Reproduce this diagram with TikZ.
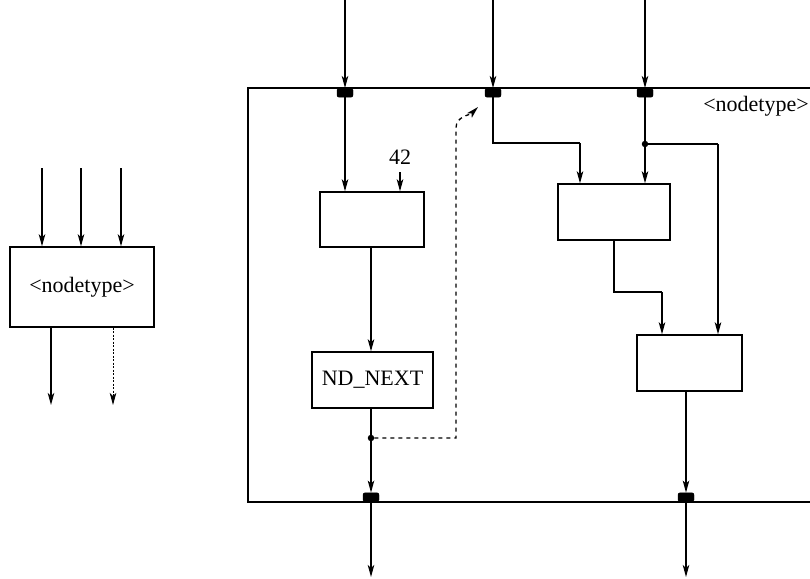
\documentclass[tikz,border=0pt]{standalone}
\usepackage{fontspec}
\setmainfont{Liberation Serif}
\usetikzlibrary{arrows.meta}
\begin{document}
\begin{tikzpicture}[x=1pt,y=-1pt,
  box/.style={draw, line width=1.4pt, inner sep=0pt, font=\fontsize{22}{26}\selectfont},
  tip/.style={-{Stealth[length=12pt,width=6.5pt,inset=3pt]}},
  arr/.style={line width=1.3pt, tip},
  ln/.style={line width=1.3pt},
  dsh/.style={line width=1.3pt, dash pattern=on 4pt off 4pt},
  port/.style={fill=black, draw=black, rounded corners=2pt, minimum width=16pt, minimum height=9pt, inner sep=0pt},
  dot/.style={circle, fill=black, inner sep=0pt, minimum size=6.5pt},
  lbl/.style={font=\fontsize{22}{26}\selectfont, inner sep=1pt}
]
\useasboundingbox (0,0) rectangle (810,578);
\fill[white] (0,0) rectangle (810,578);

% ---------- small left diagram ----------
\node[box, minimum width=144pt, minimum height=80pt] (L) at (82,287) {<nodetype>};
\coordinate (li1) at (42,168);
\coordinate (li2) at (81,168);
\coordinate (li3) at (121,168);
\draw[arr] (li1) -- (li1 |- L.north);
\draw[arr] (li2) -- (li2 |- L.north);
\draw[arr] (li3) -- (li3 |- L.north);
\coordinate (lo1) at (51,405);
\coordinate (lo2) at (113,405);
\draw[arr] (lo1 |- L.south) -- (lo1);
\draw[line width=0.9pt, dash pattern=on 2pt off 1.5pt, tip] (lo2 |- L.south) -- (lo2);

% ---------- big frame ----------
\coordinate (fTL) at (248,88);
\coordinate (fBL) at (248,502);
\draw[line width=2.2pt] (830,88) -- (fTL) -- (fBL) -- (830,502);
\node[lbl] (tl) at (756,106) {<nodetype>};

% ports
\node[port, anchor=north] (p1) at (345,88) {};
\node[port, anchor=north] (p2) at (493,88) {};
\node[port, anchor=north] (p3) at (645,88) {};
\node[port, anchor=south] (q1) at (371,502) {};
\node[port, anchor=south] (q2) at (686,502) {};

% inputs from top
\coordinate (t1) at (345,0);
\coordinate (t2) at (493,0);
\coordinate (t3) at (645,0);
\draw[arr] (t1) -- (p1.north);
\draw[arr] (t2) -- (p2.north);
\draw[arr] (t3) -- (p3.north);

% boxes
\node[box, minimum width=104pt, minimum height=55pt] (b1) at (372,219.5) {};
\node[box, minimum width=121pt, minimum height=56pt] (nd) at (372.5,380) {ND\_NEXT};
\node[box, minimum width=112pt, minimum height=56pt] (b2) at (614,212) {};
\node[box, minimum width=105pt, minimum height=56pt] (b3) at (689.5,363) {};

% left column
\draw[arr] (p1.south) -- (p1.south |- b1.north);
\node[lbl] (c42) at (400,157) {42};
\coordinate (c42s) at (400,172);
\draw[arr] (c42s) -- (c42s |- b1.north);
\coordinate (b1o) at (371,0);
\draw[arr] (b1o |- b1.south) -- (b1o |- nd.north);
\node[dot] (d1) at (371,438) {};
\draw[ln] (b1o |- nd.south) -- (d1);
\draw[arr] (d1) -- (q1.north);
\coordinate (o1) at (371,577);
\draw[arr] (q1.south) -- (o1);
\coordinate (k1) at (456,438);
\coordinate (k2) at (456,128);
\coordinate (k3) at (478,107);
\draw[dsh, tip] (d1) -- (k1) -- (k2) to[out=90,in=225] (k3);

% middle input
\coordinate (m1) at (493,143);
\coordinate (m2) at (580,143);
\draw[ln] (p2.south) -- (m1) -- (m2);
\draw[arr] (m2) -- (m2 |- b2.north);

% right input
\node[dot] (d2) at (645,144) {};
\draw[ln] (p3.south) -- (d2);
\draw[arr] (d2) -- (d2 |- b2.north);
\coordinate (r1) at (718,144);
\draw[ln] (d2) -- (r1);
\draw[arr] (r1) -- (r1 |- b3.north);

% b2 -> b3
\coordinate (s1) at (614,292);
\coordinate (s2) at (662,292);
\draw[ln] (b2.south) -- (s1) -- (s2);
\draw[arr] (s2) -- (s2 |- b3.north);

% b3 -> out
\draw[arr] (q2.north |- b3.south) -- (q2.north);
\coordinate (o2) at (686,577);
\draw[arr] (q2.south) -- (o2);
\end{tikzpicture}
\end{document}
